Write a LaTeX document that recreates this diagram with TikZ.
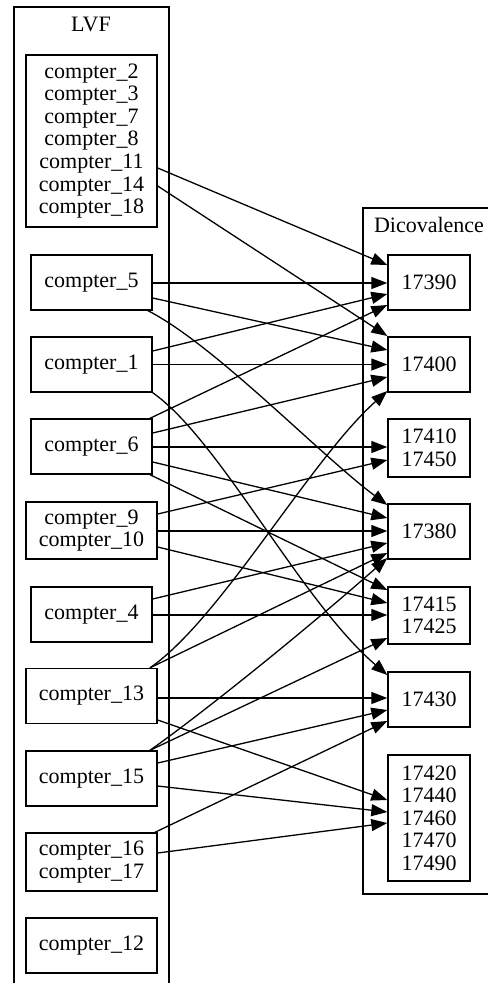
\documentclass[tikz,border=0pt]{standalone}
\usepackage{fontspec}
\setmainfont{Liberation Serif}
\usetikzlibrary{arrows.meta}
\begin{document}
\begin{tikzpicture}[x=1pt,y=-1pt,
  every node/.style={font=\fontsize{22}{22.6}\selectfont},
  box/.style={draw, line width=1.4pt, rectangle, inner sep=0pt, align=center, minimum height=55pt},
  lbox/.style={box, minimum width=121pt},
  wbox/.style={box, minimum width=131pt},
  rbox/.style={box, minimum width=82pt},
  lbl/.style={inner sep=0pt},
  edge/.style={line width=1.3pt, -{Triangle[length=16pt,width=12pt]}},
  clus/.style={line width=1.4pt}]
\useasboundingbox (0,0) rectangle (488,983);
% clusters
\draw[clus] (14,983) -- (14,7) -- (169,7) -- (169,983);
\node[lbl] (lvf) at (91,24) {LVF};
\draw[clus] (488,208) -- (363,208) -- (363,894) -- (488,894);
\node[lbl] (dico) at (429,225) {Dicovalence};
% left nodes
\node[wbox, minimum height=172pt] (A) at (91.5,141) {compter\_2\\compter\_3\\compter\_7\\compter\_8\\compter\_11\\compter\_14\\compter\_18};
\node[lbox] (c5) at (91.5,282.5) {compter\_5};
\node[lbox] (c1) at (91.5,364.5) {compter\_1};
\node[lbox] (c6) at (91.5,446.5) {compter\_6};
\node[wbox, minimum height=57pt] (c910) at (91.5,530.5) {compter\_9\\compter\_10};
\node[lbox] (c4) at (91.5,614.5) {compter\_4};
\node[wbox] (c13) at (91.5,696) {compter\_13};
\node[wbox] (c15) at (91.5,778.5) {compter\_15};
\node[wbox, minimum height=58pt] (c1617) at (91.5,862) {compter\_16\\compter\_17};
\node[wbox] (c12) at (91.5,945.5) {compter\_12};
% right nodes
\node[rbox] (d17390) at (429,282.5) {17390};
\node[rbox] (d17400) at (429,364.5) {17400};
\node[rbox, minimum height=58pt] (d17410) at (429,448) {17410\\17450};
\node[rbox] (d17380) at (429,531.5) {17380};
\node[rbox, minimum height=57pt] (d17415) at (429,615.5) {17415\\17425};
\node[rbox] (d17430) at (429,699.5) {17430};
\node[rbox, minimum height=126pt] (d17420) at (429,818) {17420\\17440\\17460\\17470\\17490};
% edges
\draw[edge] (A.east |- 0,168) -- (d17390.west |- 0,265);
\draw[edge] (A.east |- 0,186) -- (d17400.west |- 0,336);
\draw[edge] (c5.east |- 0,283) -- (d17390.west |- 0,283);
\draw[edge] (c5.east |- 0,298) -- (d17400.west |- 0,350);
\draw[edge] (c5.south east -| 148,0) .. controls (215,345) and (320,455) .. (d17380.west |- 0,505);
\draw[edge] (c1.east |- 0,351) -- (d17390.west |- 0,294);
\draw[edge] (c1.east |- 0,364.5) -- (d17400.west |- 0,364.5);
\draw[edge] (c1.south east) .. controls (220,440) and (300,600) .. (d17430.west |- 0,675);
\draw[edge] (c6.north east -| 150,0) -- (d17390.west |- 0,305);
\draw[edge] (c6.east |- 0,433) -- (d17400.west |- 0,377);
\draw[edge] (c6.east |- 0,447) -- (d17410.west |- 0,447);
\draw[edge] (c6.east |- 0,462) -- (d17380.west |- 0,518);
\draw[edge] (c6.south east -| 150,0) -- (d17415.west |- 0,590);
\draw[edge] (c910.east |- 0,514) -- (d17410.west |- 0,460);
\draw[edge] (c910.east |- 0,531) -- (d17380.west |- 0,531);
\draw[edge] (c910.east |- 0,547) -- (d17415.west |- 0,603);
\draw[edge] (c4.east |- 0,599) -- (d17380.west |- 0,543);
\draw[edge] (c4.east |- 0,615) -- (d17415.west |- 0,615);
\draw[edge] (c13.north east -| 150,0) .. controls (220,620) and (310,460) .. (d17400.west |- 0,391);
\draw[edge] (c13.north east -| 150,0) -- (d17380.west |- 0,553);
\draw[edge] (c13.east |- 0,698) -- (d17430.west |- 0,698);
\draw[edge] (c13.east |- 0,720) -- (d17420.west |- 0,800);
\draw[edge] (c15.north east -| 150,0) .. controls (200,715) and (300,635) .. (d17380.west |- 0,558);
\draw[edge] (c15.north east -| 150,0) -- (d17415.west |- 0,638);
\draw[edge] (c15.east |- 0,763) -- (d17430.west |- 0,710);
\draw[edge] (c15.east |- 0,786) -- (d17420.west |- 0,812);
\draw[edge] (c1617.north east -| 155,0) -- (d17430.west |- 0,721);
\draw[edge] (c1617.east |- 0,853) -- (d17420.west |- 0,823);
\end{tikzpicture}
\end{document}
